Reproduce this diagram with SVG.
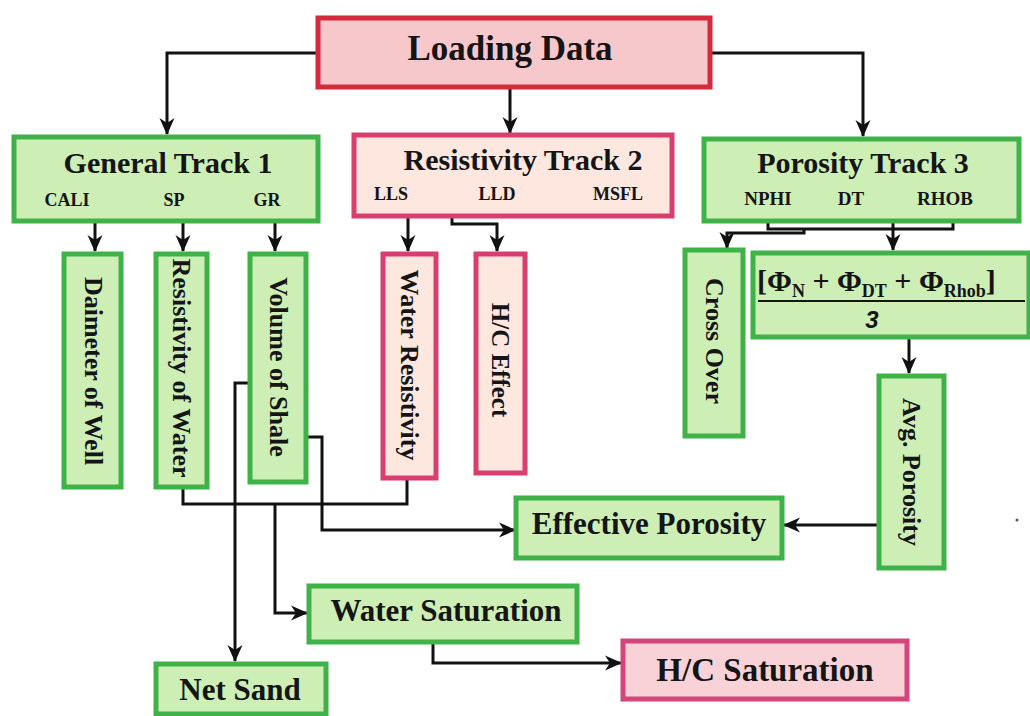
<svg xmlns="http://www.w3.org/2000/svg" width="1030" height="716" viewBox="0 0 1030 716">
<defs>
<marker id="ah" markerUnits="userSpaceOnUse" markerWidth="18" markerHeight="18" viewBox="0 0 18 18" refX="16" refY="9" orient="auto">
<path d="M0,1.5 L17,9 L0,16.5 L5,9 z" fill="#111"/>
</marker>
<style>
.g{fill:#cdeeb4;stroke:#3fb34a;stroke-width:5}
.r{fill:#f7c8cb;stroke:#d42a3c;stroke-width:5}
.p{fill:#fde7de;stroke:#d83f6f;stroke-width:5}
.ps{fill:#f9d2d8;stroke:#d4457a;stroke-width:5}
text{font-family:"Liberation Serif","Times New Roman",serif;fill:#151515}
.b{font-weight:bold}
.c{text-anchor:middle}
.v{text-anchor:middle;dominant-baseline:central;font-weight:bold}
.w{stroke:#111;stroke-width:3;fill:none}
.a{marker-end:url(#ah)}
</style>
</defs>
<rect width="1030" height="716" fill="#ffffff"/>

<g id="connectors">
<path class="w a" d="M317,53 H167 V134"/>
<path class="w a" d="M510,87 V133"/>
<path class="w a" d="M710,53 H863 V136"/>
<path class="w a" d="M95,222 V251"/>
<path class="w a" d="M183,222 V251"/>
<path class="w a" d="M275,222 V251"/>
<path class="w a" d="M408,217 V251"/>
<path class="w a" d="M452,217 V224 H497 V251"/>
<path class="w" d="M768,208 V229 H953 V208"/>
<path class="w a" d="M804,229 V233 H727 V248"/>
<path class="w" d="M872,197 H915"/>
<path class="w a" d="M893,197 V250"/>
<path class="w a" d="M909,338 V373"/>
<path class="w a" d="M878,525 H784"/>
<path class="w" d="M183,487 V504 H407 V478"/>
<path class="w a" d="M275,504 V613 H307"/>
<path class="w a" d="M249,383 H235 V661"/>
<path class="w a" d="M307,437 H322 V530 H515"/>
<path class="w a" d="M433,643 V663 H621"/>
</g>

<g id="loading">
<rect class="r" x="318" y="18" width="392" height="69"/>
<text class="b c" x="510" y="60" font-size="35">Loading Data</text>
</g>

<g id="general">
<rect class="g" x="14" y="137" width="304" height="84"/>
<text class="b c" x="168" y="173" font-size="30">General Track 1</text>
<text class="b c" x="67" y="206" font-size="18">CALI</text>
<text class="b c" x="174" y="206" font-size="18">SP</text>
<text class="b c" x="267" y="206" font-size="18">GR</text>
</g>

<g id="resistivity">
<rect class="p" x="354" y="135" width="318" height="81"/>
<text class="b c" x="523" y="170" font-size="30">Resistivity Track 2</text>
<text class="b c" x="391" y="200" font-size="18">LLS</text>
<text class="b c" x="497" y="200" font-size="18">LLD</text>
<text class="b c" x="618" y="200" font-size="18">MSFL</text>
</g>

<g id="porosity">
<rect class="g" x="704" y="139" width="315" height="82"/>
<text class="b c" x="863" y="173" font-size="30">Porosity Track 3</text>
<text class="b c" x="768" y="205" font-size="19">NPHI</text>
<text class="b c" x="851" y="205" font-size="19">DT</text>
<text class="b c" x="945" y="205" font-size="19">RHOB</text>
</g>

<g id="diameter">
<rect class="g" x="64" y="254" width="57" height="233"/>
<text class="v" transform="translate(93,371) rotate(90)" font-size="26">Daimeter of Well</text>
</g>

<g id="reswater">
<rect class="g" x="156" y="254" width="51" height="233"/>
<text class="v" transform="translate(181,368) rotate(90)" font-size="26">Resistivity of Water</text>
</g>

<g id="vshale">
<rect class="g" x="250" y="254" width="56" height="228"/>
<text class="v" transform="translate(278,367) rotate(90)" font-size="26">Volume of Shale</text>
</g>

<g id="waterres">
<rect class="p" x="383" y="254" width="53" height="224"/>
<text class="v" transform="translate(409,365) rotate(90)" font-size="26">Water Resistivity</text>
</g>

<g id="hceffect">
<rect class="p" x="476" y="254" width="49" height="219"/>
<text class="v" transform="translate(500,360) rotate(90)" font-size="25">H/C Effect</text>
</g>

<g id="crossover">
<rect class="g" x="685" y="250" width="58" height="186"/>
<text class="v" transform="translate(714,341) rotate(90)" font-size="26">Cross Over</text>
</g>

<g id="formula">
<rect class="g" x="753" y="253" width="276" height="84"/>
<text class="b" x="757" y="291" font-size="30">[Φ<tspan font-size="18" dy="6">N</tspan><tspan dy="-6"> + Φ</tspan><tspan font-size="18" dy="6">DT</tspan><tspan dy="-6"> + Φ</tspan><tspan font-size="18" dy="6">Rhob</tspan><tspan dy="-6">]</tspan></text>
<line x1="758" y1="301" x2="1025" y2="301" stroke="#151515" stroke-width="2"/>
<text class="c" x="872" y="328" font-size="24" font-style="italic" font-weight="bold" style="font-family:'Liberation Sans',Arial,sans-serif">3</text>
</g>

<g id="avgporosity">
<rect class="g" x="879" y="376" width="65" height="192"/>
<text class="v" transform="translate(911,472) rotate(90)" font-size="26">Avg. Porosity</text>
</g>

<g id="effporosity">
<rect class="g" x="516" y="498" width="266" height="60"/>
<text class="b c" x="649" y="534" font-size="31">Effective Porosity</text>
</g>

<g id="watersat">
<rect class="g" x="309" y="586" width="268" height="56"/>
<text class="b c" x="446" y="621" font-size="31">Water Saturation</text>
</g>

<g id="netsand">
<rect class="g" x="156" y="664" width="170" height="50"/>
<text class="b c" x="240" y="700" font-size="31">Net Sand</text>
</g>

<g id="hcsat">
<rect class="ps" x="623" y="641" width="284" height="58"/>
<text class="b c" x="765" y="681" font-size="33">H/C Saturation</text>
</g>

<circle cx="1017" cy="520" r="1.5" fill="#555"/>
</svg>
